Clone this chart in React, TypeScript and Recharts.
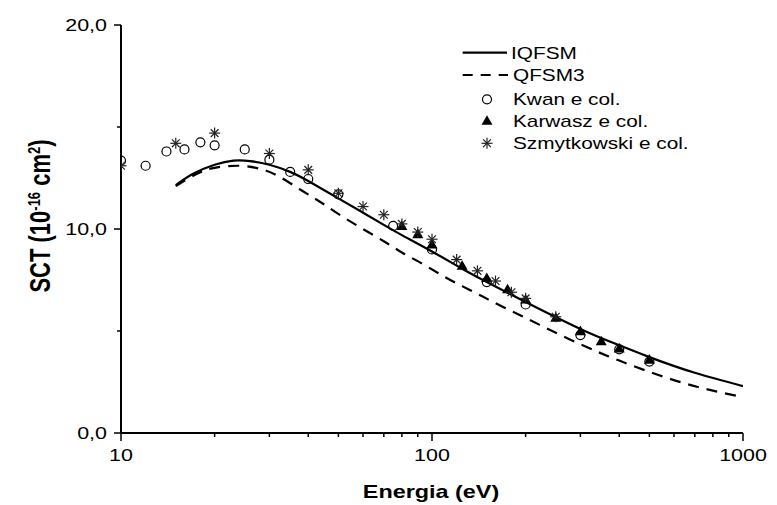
import React from "react";
import {
  ComposedChart,
  Line,
  Scatter,
  XAxis,
  YAxis,
} from "recharts";

// curves (theory)
const IQFSM_E = [15, 17, 20, 23, 26, 30, 35, 40, 50, 60, 70, 80, 100, 125, 150, 200, 300, 400, 500, 700, 1000];
const IQFSM_SCT = [12.15, 12.7, 13.15, 13.35, 13.33, 13.15, 12.8, 12.35, 11.5, 10.8, 10.2, 9.7, 8.9, 8.05, 7.4, 6.42, 5.1, 4.3, 3.72, 2.95, 2.3];

const QFSM3_E = [15, 17.5, 20, 24, 28, 32, 38, 44, 51, 60, 70, 80, 93, 108, 125, 145, 168, 195, 222, 300, 400, 540, 730, 1000];
const QFSM3_SCT = [12.1, 12.7, 13.0, 13.1, 12.95, 12.6, 11.9, 11.3, 10.65, 10.0, 9.4, 8.85, 8.3, 7.72, 7.2, 6.7, 6.2, 5.72, 5.3, 4.35, 3.55, 2.82, 2.22, 1.76];

// experiments
const KWAN_E = [10, 12, 14, 16, 18, 20, 25, 30, 35, 40, 50, 75, 100, 150, 200, 300, 400, 500];
const KWAN_SCT = [13.35, 13.1, 13.8, 13.9, 14.25, 14.1, 13.9, 13.4, 12.8, 12.45, 11.7, 10.15, 9.0, 7.4, 6.3, 4.8, 4.1, 3.5];

const KARWASZ_E = [80, 90, 100, 125, 150, 175, 200, 250, 300, 350, 400, 500];
const KARWASZ_SCT = [10.15, 9.75, 9.25, 8.2, 7.6, 7.05, 6.55, 5.65, 5.0, 4.5, 4.15, 3.6];

const SZMY_E = [10, 15, 20, 30, 40, 50, 60, 70, 80, 90, 100, 120, 140, 160, 180, 200, 250];
const SZMY_SCT = [13.1, 14.2, 14.7, 13.7, 12.9, 11.75, 11.1, 10.7, 10.25, 9.85, 9.5, 8.5, 7.95, 7.45, 6.9, 6.6, 5.7];

const X_TICKS = [10, 20, 30, 40, 50, 60, 70, 80, 90, 100, 200, 300, 400, 500, 600, 700, 800, 900, 1000];
const X_MAJOR = [10, 100, 1000];
const Y_TICKS = [0, 5, 10, 15, 20];
const Y_MAJOR = [0, 10, 20];

const zip = (xs: number[], ys: number[]) => xs.map((x, i) => ({ x, y: ys[i] }));

const FONT = "'Liberation Sans', Arial, sans-serif";
const SX = 1.3; // the original is stretched horizontally

function Txt({ x, y, anchor = "start", size = 16, bold = false, children }: any) {
  return (
    <text
      transform={`translate(${x},${y}) scale(${SX},1)`}
      textAnchor={anchor}
      fontSize={size}
      fontWeight={bold ? "bold" : "normal"}
      fontFamily={FONT}
      fill="#000"
    >
      {children}
    </text>
  );
}

function CircleMark({ cx, cy }: any) {
  return <circle cx={cx} cy={cy} r={4.5} fill="#fff" fillOpacity={0} stroke="#000" strokeWidth={1.2} />;
}

function TriangleMark({ cx, cy }: any) {
  const s = 5.5;
  return (
    <polygon
      points={`${cx},${cy - s} ${cx - s},${cy + s * 0.75} ${cx + s},${cy + s * 0.75}`}
      fill="#000"
    />
  );
}

function StarMark({ cx, cy }: any) {
  const r = 5.5;
  const d = r * 0.707;
  return (
    <g stroke="#222" strokeWidth={1.2}>
      <line x1={cx} y1={cy - r} x2={cx} y2={cy + r} />
      <line x1={cx - r} y1={cy} x2={cx + r} y2={cy} />
      <line x1={cx - d} y1={cy - d} x2={cx + d} y2={cy + d} />
      <line x1={cx - d} y1={cy + d} x2={cx + d} y2={cy - d} />
    </g>
  );
}

function XTick({ x, y, payload }: any) {
  const major = X_MAJOR.includes(payload.value);
  return (
    <g>
      <line x1={x} x2={x} y1={y} y2={y + (major ? 8 : 4)} stroke="#000" strokeWidth={1.5} />
      {major && (
        <Txt x={x} y={y + 28} anchor="middle" size={16.5}>
          {payload.value}
        </Txt>
      )}
    </g>
  );
}

function YTick({ x, y, payload }: any) {
  const major = Y_MAJOR.includes(payload.value);
  return (
    <g>
      <line x1={x} x2={x - (major ? 7 : 4)} y1={y} y2={y} stroke="#000" strokeWidth={1.5} />
      {major && (
        <Txt x={x - 14} y={y + 6} anchor="end" size={16.5}>
          {payload.value.toFixed(1).replace(".", ",")}
        </Txt>
      )}
    </g>
  );
}

function RightTick({ x, y, payload }: any) {
  const major = Y_MAJOR.includes(payload.value);
  return <line x1={x} x2={x + (major ? 7 : 4)} y1={y} y2={y} stroke="#000" strokeWidth={1.5} />;
}

const LEGEND_ROWS = [44.7, 67, 91.3, 112.7, 135.3];

export default function App() {
  return (
    <ComposedChart
      width={769}
      height={497}
      margin={{ top: 17, right: 34, left: 33, bottom: 22 }}
    >
      <XAxis
        dataKey="x"
        type="number"
        scale="log"
        domain={[10, 1000]}
        ticks={X_TICKS}
        interval={0}
        allowDataOverflow
        tickSize={0}
        tickMargin={0}
        height={50}
        tick={<XTick />}
        axisLine={{ stroke: "#000", strokeWidth: 2 }}
      />
      <XAxis
        xAxisId="top"
        orientation="top"
        dataKey="x"
        type="number"
        scale="log"
        domain={[10, 1000]}
        allowDataOverflow
        height={0}
        tick={false}
        tickLine={false}
        axisLine={{ stroke: "#000", strokeWidth: 2 }}
      />
      <YAxis
        type="number"
        domain={[0, 20]}
        ticks={Y_TICKS}
        interval={0}
        width={80}
        tickSize={0}
        tickMargin={0}
        tick={<YTick />}
        axisLine={{ stroke: "#000", strokeWidth: 2 }}
      />
      <YAxis
        yAxisId="r"
        orientation="right"
        type="number"
        domain={[0, 20]}
        ticks={Y_TICKS}
        interval={0}
        width={0}
        tickSize={0}
        tickMargin={0}
        tick={<RightTick />}
        axisLine={{ stroke: "#000", strokeWidth: 2 }}
      />
      <Line
        data={zip(IQFSM_E, IQFSM_SCT)}
        dataKey="y"
        type="natural"
        stroke="#000"
        strokeWidth={2.2}
        dot={false}
        isAnimationActive={false}
      />
      <Line
        data={zip(QFSM3_E, QFSM3_SCT)}
        dataKey="y"
        type="natural"
        stroke="#000"
        strokeWidth={2.2}
        strokeDasharray="11 8"
        dot={false}
        isAnimationActive={false}
      />
      <Scatter data={zip(KWAN_E, KWAN_SCT)} dataKey="y" shape={<CircleMark />} isAnimationActive={false} />
      <Scatter data={zip(KARWASZ_E, KARWASZ_SCT)} dataKey="y" shape={<TriangleMark />} isAnimationActive={false} />
      <Scatter data={zip(SZMY_E, SZMY_SCT)} dataKey="y" shape={<StarMark />} isAnimationActive={false} />

      {/* legend */}
      <g>
        <line x1={454.7} x2={499} y1={LEGEND_ROWS[0]} y2={LEGEND_ROWS[0]} stroke="#000" strokeWidth={2.2} />
        <Txt x={503} y={LEGEND_ROWS[0] + 6} size={16}>IQFSM</Txt>
        <line x1={454.7} x2={500} y1={LEGEND_ROWS[1]} y2={LEGEND_ROWS[1]} stroke="#000" strokeWidth={2.2} strokeDasharray="10 8" />
        <Txt x={505} y={LEGEND_ROWS[1] + 6} size={16}>QFSM3</Txt>
        <CircleMark cx={479} cy={LEGEND_ROWS[2]} />
        <Txt x={505} y={LEGEND_ROWS[2] + 6} size={16}>Kwan e col.</Txt>
        <TriangleMark cx={479} cy={LEGEND_ROWS[3]} />
        <Txt x={505} y={LEGEND_ROWS[3] + 6} size={16}>Karwasz e col.</Txt>
        <StarMark cx={479} cy={LEGEND_ROWS[4]} />
        <Txt x={505} y={LEGEND_ROWS[4] + 6} size={16}>Szmytkowski e col.</Txt>
      </g>

      {/* axis titles */}
      <Txt x={423} y={490} anchor="middle" size={18} bold>
        Energia (eV)
      </Txt>
      <text
        transform={`translate(42,208) rotate(-90) scale(1,${SX})`}
        textAnchor="middle"
        fontSize={22}
        fontWeight="bold"
        fontFamily={FONT}
        fill="#000"
      >
        SCT (10
        <tspan dy={-8} fontSize={13}>-16</tspan>
        <tspan dy={8}> cm</tspan>
        <tspan dy={-8} fontSize={13}>2</tspan>
        <tspan dy={8}>)</tspan>
      </text>
    </ComposedChart>
  );
}
